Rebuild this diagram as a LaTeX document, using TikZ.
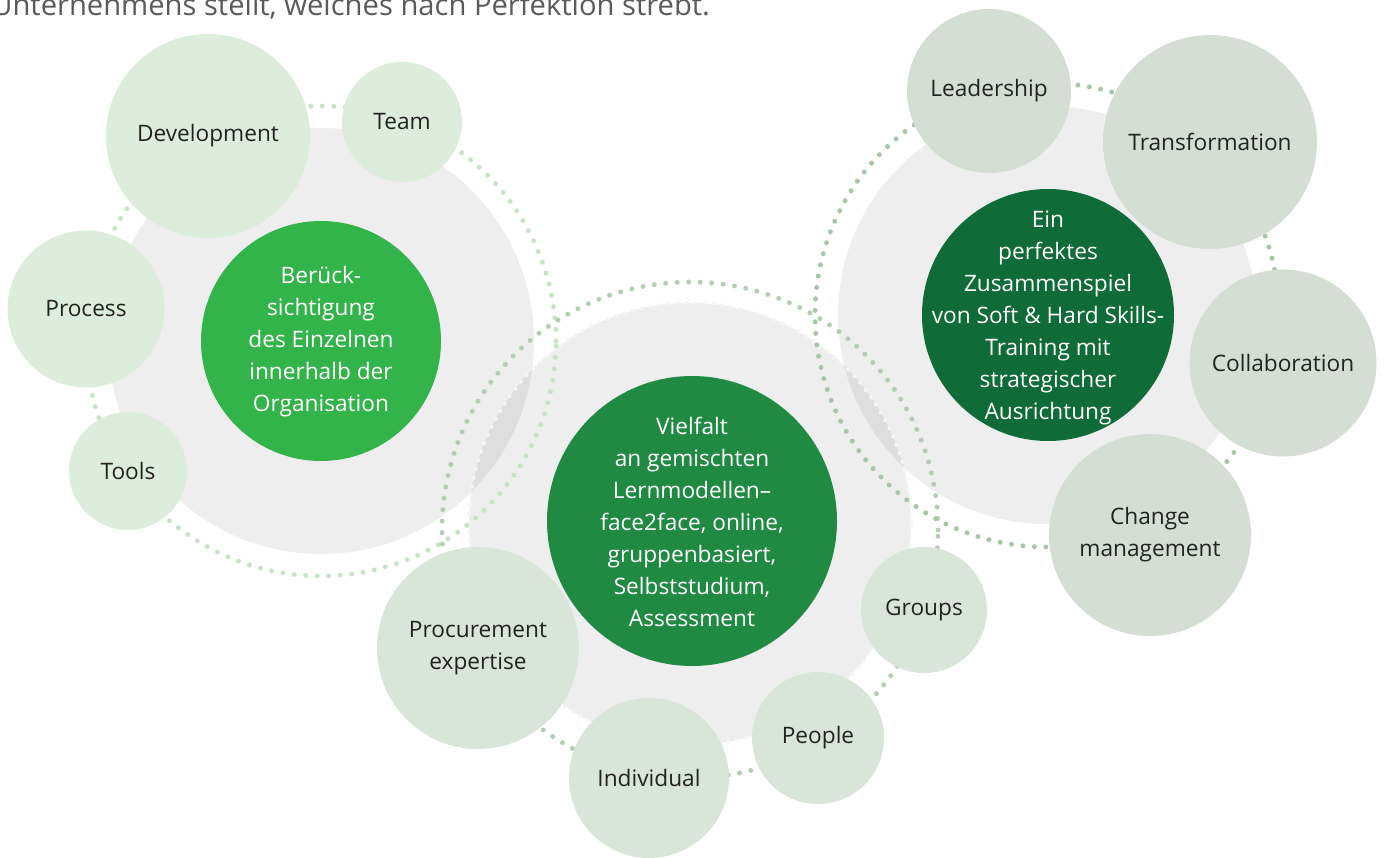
\documentclass[tikz,border=0pt]{standalone}
\usepackage{fontspec}
\setmainfont{Open Sans}
\usetikzlibrary{calc}
\definecolor{satL}{HTML}{DDEDDB}
\definecolor{satM}{HTML}{DAE5D9}
\definecolor{satR}{HTML}{D5DED4}
\definecolor{ringL}{HTML}{C8E3C6}
\definecolor{ringM}{HTML}{B5CDB3}
\definecolor{ringR}{HTML}{A9C6AB}
\definecolor{edgeM}{HTML}{F3F6F2}
\definecolor{hubL}{HTML}{33B44A}
\definecolor{hubM}{HTML}{208A43}
\definecolor{hubR}{HTML}{0F6B37}
\definecolor{txtdark}{HTML}{222222}
\definecolor{headgrey}{HTML}{5A5A5A}
\newcommand\lblfont{\fontsize{12.9}{18.2}\selectfont}
\newcommand\headfont{\fontsize{16.6}{18}\selectfont}

\begin{document}
\begin{tikzpicture}[x=0.02cm,y=0.02cm,
	greybg/.style={fill=black,fill opacity=0.067},
	dotring/.style={line width=0.1cm,line cap=round,dash pattern=on 0pt off 0.23cm},
	sat/.style={circle,inner sep=0pt,text=txtdark,font=\lblfont,align=center},
	hub/.style={circle,inner sep=0pt},
	hubtext/.style={inner sep=0pt,text=white,font=\lblfont,align=center}]
			%%%%% START %%%%%
			\def\u{0.02cm}
			\useasboundingbox (0,0) rectangle (1386,-858);
			\clip (0,0) rectangle (1386,-858);
			
			\coordinate (cL) at (321,-341);
			\coordinate (cM) at (690,-524);
			\coordinate (rM) at (690,-530);
			\coordinate (cR) at (1047,-315);
			
			\node[anchor=base west,text=headgrey,font=\headfont,inner sep=0pt] (head) at (-9,-16) {Unternehmens stellt, welches nach Perfektion strebt.};
			
			% grey discs
			\fill[greybg] (cL) circle (213);
			\fill[greybg] (cM) circle (221);
			\fill[greybg] (cR) circle (209);
			\draw[edgeM,line width=0.08cm,line cap=round,dash pattern=on 0pt off 0.18cm] (cM) circle (221);
			
			% dotted rings
			\draw[dotring,ringL] (cL) circle (235);
			\draw[dotring,ringM] (rM) circle (248);
			\draw[dotring,ringR] (cR) circle (232);
			
			% left cluster
			\node[sat,fill=satL,minimum size={204*\u}] (dev) at (208,-136) {Development};
			\node[sat,fill=satL,minimum size={120*\u}] (team) at (402,-122) {Team};
			\node[sat,fill=satL,minimum size={157*\u}] (proc) at (86,-309) {Process};
			\node[sat,fill=satL,minimum size={118*\u}] (tools) at (128,-471) {Tools};
			
			% middle cluster
			\node[sat,fill=satM,minimum size={202*\u}] (procure) at (478,-648) {Procurement\\expertise};
			\node[sat,fill=satM,minimum size={160*\u}] (indiv) at (649,-778) {Individual};
			\node[sat,fill=satM,minimum size={132*\u}] (people) at (818,-738) {People};
			\node[sat,fill=satM,minimum size={126*\u}] (groups) at (924,-610) {Groups};
			
			% right cluster
			\node[sat,fill=satR,minimum size={164*\u}] (lead) at (989,-91) {Leadership};
			\node[sat,fill=satR,minimum size={214*\u}] (trans) at (1210,-142) {Transformation};
			\node[sat,fill=satR,minimum size={187*\u}] (collab) at (1283,-363) {Collaboration};
			\node[sat,fill=satR,minimum size={202*\u}] (change) at (1150,-535) {Change\\management};
			
			% hubs
			\node[hub,fill=hubL,minimum size={240*\u}] (hubL) at (cL) {};
			\node[hub,fill=hubM,minimum size={290*\u}] (hubM) at (692,-521) {};
			\node[hub,fill=hubR,minimum size={252*\u}] (hubR) at (1048,-315) {};
			\node[hubtext] (hubLtext) at ($(hubL)+(0,-1)$) {Berück-\\sichtigung\\des Einzelnen\\innerhalb der\\Organisation};
			\node[hubtext] (hubMtext) at ($(hubM)+(0,-1)$) {Vielfalt\\an gemischten\\Lernmodellen–\\face2face, online,\\gruppenbasiert,\\Selbststudium,\\Assessment};
			\node[hubtext] (hubRtext) at ($(hubR)+(0,-3)$) {Ein\\perfektes\\Zusammenspiel\\von Soft \& Hard Skills-\\Training mit\\strategischer\\Ausrichtung};
			%%%%% END %%%%%
\end{tikzpicture}
\end{document}
